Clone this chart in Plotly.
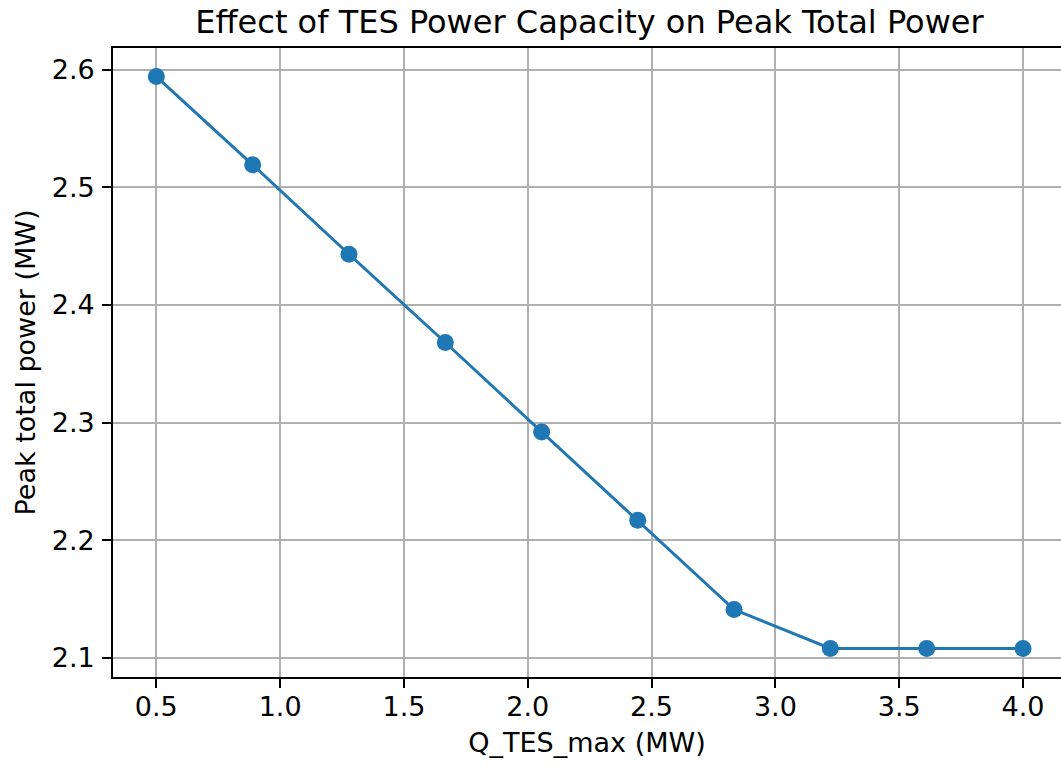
import numpy as np
import plotly.graph_objects as go

q_tes_max = [0.5, 0.889, 1.278, 1.667, 2.056, 2.444, 2.833, 3.222, 3.611, 4.0]
peak_power = [2.594, 2.519, 2.443, 2.368, 2.292, 2.217, 2.141, 2.108, 2.108, 2.108]
x_ticks = [0.5, 1.0, 1.5, 2.0, 2.5, 3.0, 3.5, 4.0]
y_ticks = [2.1, 2.2, 2.3, 2.4, 2.5, 2.6]

BLUE = "#1f77b4"
FONT = "DejaVu Sans"
FS = 27

fig = go.Figure()
fig.add_trace(go.Scatter(
    x=q_tes_max, y=peak_power, mode="lines+markers",
    line=dict(color=BLUE, width=3),
    marker=dict(color=BLUE, size=17),
    showlegend=False,
))

fig.update_layout(
    width=1061, height=767,
    margin=dict(l=113, r=0, t=48, b=90),
    paper_bgcolor="white", plot_bgcolor="white",
    font=dict(family=FONT, size=FS, color="black"),
    title=dict(text="Effect of TES Power Capacity on Peak Total Power",
               x=589.5 / 1061, xref="container", xanchor="center",
               y=1 - 22 / 767, yref="container", yanchor="middle",
               font=dict(family=FONT, size=32, color="black")),
)
fig.update_xaxes(
    range=[0.325, 4.0 + 38 / 247.7],
    tickvals=x_ticks, tickformat=".1f", tickfont=dict(size=FS),
    showgrid=True, gridcolor="#b0b0b0", gridwidth=1.6,
    showline=True, linecolor="black", linewidth=1.7, mirror=True,
    ticks="outside", ticklen=9, tickwidth=1.7, tickcolor="black",
    ticklabelstandoff=-4,
    title=dict(text="Q_TES_max (MW)", standoff=12, font=dict(size=FS)),
    zeroline=False,
)
fig.update_yaxes(
    range=[2.0837, 2.6183],
    tickvals=y_ticks, tickformat=".1f", tickfont=dict(size=FS),
    showgrid=True, gridcolor="#b0b0b0", gridwidth=1.6,
    showline=True, linecolor="black", linewidth=1.7, mirror=False,
    ticks="outside", ticklen=9, tickwidth=1.7, tickcolor="black",
    ticklabelstandoff=2,
    title=dict(text="Peak total power (MW)", standoff=8, font=dict(size=FS)),
    zeroline=False,
)

fig.write_html("out.html")
